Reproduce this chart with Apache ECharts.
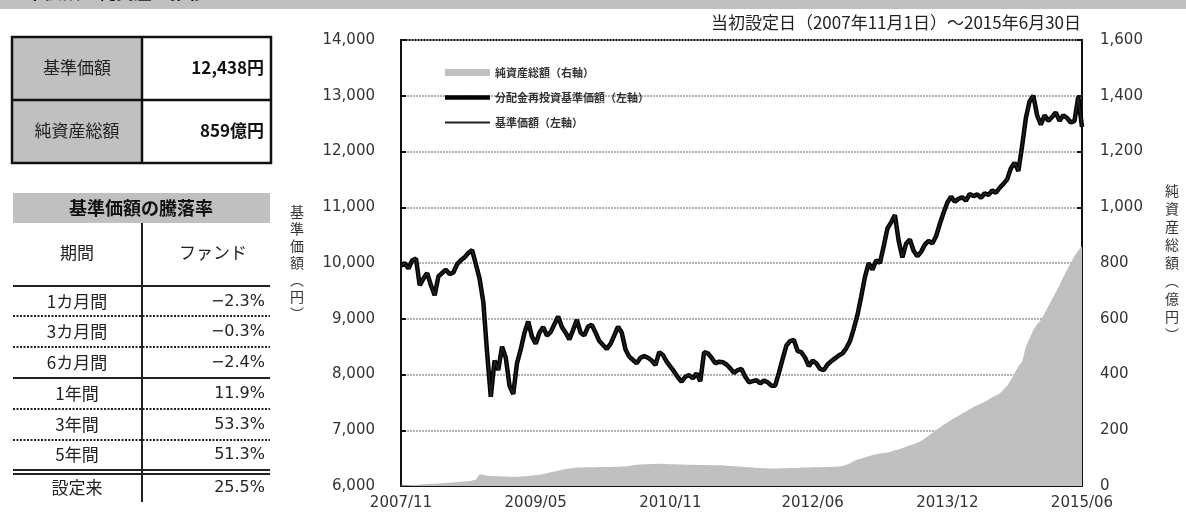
<!DOCTYPE html>
<html><head><meta charset="utf-8">
<script src="https://cdn.jsdelivr.net/npm/echarts@6/dist/echarts.min.js"></script>
<style>html,body{margin:0;padding:0;background:#fff}#c{width:1186px;height:522px}</style>
</head><body><div id="c"></div>
<script>
// semi-monthly observation points, 2007/11 .. 2015/06
var startYear = 2007, startMonth = 11, monthCount = 92;
var tickLabels = ['2007/11','2009/05','2010/11','2012/06','2013/12','2015/06'];
var nav = [
9950,10000,9900,10050,10080,9600,9720,9820,9600,9420,
9760,9820,9880,9800,9830,9980,10050,10100,10180,10230,
9980,9720,9300,8400,7600,8250,8080,8500,8300,7800,
7650,8200,8450,8750,8950,8680,8550,8750,8850,8700,
8760,8900,9040,8850,8750,8630,8800,8980,8750,8700,
8860,8890,8750,8600,8530,8460,8550,8700,8860,8750,
8450,8320,8260,8200,8300,8330,8300,8250,8170,8400,
8350,8230,8140,8050,7950,7870,7960,7990,7930,8020,
7880,8400,8380,8300,8200,8230,8220,8180,8110,8030,
8080,8100,7960,7860,7880,7900,7840,7890,7860,7800,
7800,8030,8280,8520,8600,8620,8420,8400,8300,8150,
8250,8200,8100,8080,8180,8240,8290,8340,8380,8470,
8600,8820,9070,9400,9750,10000,9880,10050,10000,10300,
10620,10730,10860,10400,10100,10350,10420,10220,10120,10200,
10330,10400,10350,10480,10700,10900,11080,11190,11100,11150,
11180,11120,11240,11200,11230,11170,11250,11220,11300,11260,
11350,11420,11500,11700,11800,11650,12100,12600,12900,13000,
12650,12480,12650,12550,12620,12700,12550,12650,12600,12520,
12550,12980,12438
];
var aum = [
2,3,3,4,4,5,6,7,8,8,
9,10,11,12,13,14,15,16,17,20,
22,42,40,37,36,35,35,34,34,33,
33,33,34,35,36,38,39,40,43,46,
49,52,55,58,61,63,65,66,66,67,
67,67,67,68,68,68,68,69,69,70,
70,72,74,76,77,78,78,79,79,80,
80,79,78,78,77,77,76,76,76,75,
75,75,75,74,74,74,74,73,72,71,
70,69,68,67,66,65,65,64,64,63,
63,63,64,64,65,65,65,66,66,66,
67,67,67,68,68,69,69,70,72,75,
82,90,95,98,103,107,111,114,117,118,
120,124,128,131,136,141,146,150,155,162,
170,180,190,200,210,220,228,237,245,252,
260,267,275,283,290,296,302,310,318,325,
332,345,360,380,405,430,445,500,530,560,
580,595,620,645,670,695,720,750,775,800,
825,845,859
];
var summaryLabels = ['基準価額','純資産総額'];
var summaryValues = ['12,438円','859億円'];
var periods = ['1カ月間','3カ月間','6カ月間','1年間','3年間','5年間','設定来'];
var returns = ['−2.3%','−0.3%','−2.4%','11.9%','53.3%','51.3%','25.5%'];
var seriesNames = ['純資産総額（右軸）','分配金再投資基準価額（左軸）','基準価額（左軸）'];

var cats = [];
for (var m = 0; m < monthCount; m++) {
  var y = startYear + Math.floor((startMonth - 1 + m) / 12);
  var mo = (startMonth - 1 + m) % 12 + 1;
  var ym = y + '/' + (mo < 10 ? '0' + mo : mo);
  cats.push(ym + '/01');
  if (m < monthCount - 1) cats.push(ym + '/16');
}
function isTick(idx, val) { return val.slice(8) === '01' && tickLabels.indexOf(val.slice(0, 7)) >= 0; }

var CJK = '"Noto Sans CJK JP", sans-serif';
var NUM = '"DejaVu Sans", "Noto Sans CJK JP", sans-serif';

var g = [];
// top bar
g.push({type:'rect', shape:{x:0,y:0,width:1186,height:9}, style:{fill:'#c0c0c0'}});
g.push({type:'text', left:8, top:-17, style:{text:'基準価額・純資産の推移', font:'bold 18px ' + CJK, fill:'#111'}});
// summary table
g.push({type:'rect', shape:{x:12,y:37,width:130,height:126}, style:{fill:'#c0c0c0'}});
g.push({type:'rect', shape:{x:12,y:37,width:259,height:126}, style:{fill:'none', stroke:'#111', lineWidth:2.5}});
g.push({type:'line', shape:{x1:142,y1:37,x2:142,y2:163}, style:{stroke:'#111', lineWidth:2.5}});
g.push({type:'line', shape:{x1:12,y1:100,x2:271,y2:100}, style:{stroke:'#111', lineWidth:2.5}});
for (var i = 0; i < 2; i++) {
  var cy = 68 + i * 63;
  g.push({type:'text', x:77, y:cy, style:{text:summaryLabels[i], font:'17px ' + CJK, fill:'#222', align:'center', verticalAlign:'middle'}});
  g.push({type:'text', x:264, y:cy, style:{text:summaryValues[i], font:'bold 17px ' + CJK, fill:'#111', align:'right', verticalAlign:'middle'}});
}
// returns table
g.push({type:'rect', shape:{x:13,y:193,width:257,height:30}, style:{fill:'#c0c0c0'}});
g.push({type:'text', x:141, y:208, style:{text:'基準価額の騰落率', font:'bold 18px ' + CJK, fill:'#111', align:'center', verticalAlign:'middle'}});
g.push({type:'line', shape:{x1:142,y1:223,x2:142,y2:502}, style:{stroke:'#222', lineWidth:2}});
g.push({type:'text', x:77, y:253, style:{text:'期間', font:'17px ' + CJK, fill:'#222', align:'center', verticalAlign:'middle'}});
g.push({type:'text', x:213, y:253, style:{text:'ファンド', font:'17px ' + CJK, fill:'#222', align:'center', verticalAlign:'middle'}});
var sep = [[286,'s'],[316,'d'],[347,'d'],[378,'s'],[409,'d'],[440,'d'],[470,'s'],[474,'s']];
sep.forEach(function (s) {
  g.push({type:'line', shape:{x1:13,y1:s[0],x2:270,y2:s[0]}, style:{stroke:'#222', lineWidth:2, lineDash: s[1]==='d'?[2,1.5]:null}});
});
var rowY = [302,332,363,394,425,455,488];
for (var r = 0; r < periods.length; r++) {
  g.push({type:'text', x:77, y:rowY[r], style:{text:periods[r], font:'17px ' + CJK, fill:'#222', align:'center', verticalAlign:'middle'}});
  g.push({type:'text', x:265, y:rowY[r], style:{text:returns[r], font:'16px ' + NUM, fill:'#222', align:'right', verticalAlign:'middle'}});
}
// chart title
g.push({type:'text', x:1081, y:23, style:{text:'当初設定日（2007年11月1日）～2015年6月30日', font:'17px ' + CJK, fill:'#222', align:'right', verticalAlign:'middle'}});

var thickIcon = 'path://M0,0L45,0L45,0.01Z M0,2.8L45,2.8L45,7.2L0,7.2Z M0,10L45,10L45,10.01Z';
var thinIcon = 'path://M0,0L45,0L45,0.01Z M0,4L45,4L45,6L0,6Z M0,10L45,10L45,10.01Z';
var areaIcon = 'path://M0,0L45,0L45,0.01Z M0,1.5L45,1.5L45,8.5L0,8.5Z M0,10L45,10L45,10.01Z';

var chart = echarts.init(document.getElementById('c'));
chart.setOption({
  animation:false,
  backgroundColor:'#fff',
  grid:{left:401, right:104, top:40, bottom:36, show:true, borderColor:'#111', borderWidth:2, backgroundColor:'transparent'},
  legend:{
    orient:'vertical', left:440, top:62, itemWidth:45, itemHeight:10, itemGap:14,
    textStyle:{fontFamily:CJK, fontSize:11, color:'#333', fontWeight:'bold'},
    data:[
      {name:seriesNames[0], icon:areaIcon, itemStyle:{color:'#c0c0c0'}},
      {name:seriesNames[1], icon:thickIcon, itemStyle:{color:'#000'}},
      {name:seriesNames[2], icon:thinIcon, itemStyle:{color:'#222'}}
    ]
  },
  xAxis:{
    type:'category', data:cats, boundaryGap:false,
    axisLine:{lineStyle:{color:'#111', width:2}},
    axisTick:{inside:true, length:6, interval:isTick, lineStyle:{color:'#111', width:2}},
    axisLabel:{interval:isTick, formatter:function(v){return v.slice(0,7);}, fontFamily:NUM, fontSize:15, color:'#333', margin:10},
    splitLine:{show:false}
  },
  yAxis:[{
    type:'value', min:6000, max:14000, interval:1000,
    name:'基\n準\n価\n額\n︵\n円\n︶', nameLocation:'middle', nameGap:97, nameRotate:0,
    nameTextStyle:{fontFamily:CJK, fontSize:14, color:'#333', lineHeight:17},
    axisLine:{show:true, lineStyle:{color:'#111', width:2}},
    axisTick:{show:true, inside:true, length:5, lineStyle:{color:'#111', width:2}},
    axisLabel:{fontFamily:NUM, fontSize:15, color:'#333', margin:26, formatter:function(v){return v.toLocaleString('en-US');}},
    splitLine:{lineStyle:{color:'#999', type:[2,1], width:1.5}}
  },{
    type:'value', min:0, max:1600, interval:200,
    name:'純\n資\n産\n総\n額\n︵\n億\n円\n︶', nameLocation:'middle', nameGap:83, nameRotate:0,
    nameTextStyle:{fontFamily:CJK, fontSize:14, color:'#333', lineHeight:18},
    axisLine:{show:true, lineStyle:{color:'#111', width:2}},
    axisTick:{show:true, inside:true, length:5, lineStyle:{color:'#111', width:2}},
    axisLabel:{fontFamily:NUM, fontSize:15, color:'#333', margin:18, formatter:function(v){return v.toLocaleString('en-US');}},
    splitLine:{show:false}
  }],
  series:[
    {name:seriesNames[0], type:'line', yAxisIndex:1, data:aum, symbol:'none', lineStyle:{width:0, color:'#c0c0c0'}, itemStyle:{color:'#c0c0c0'}, areaStyle:{color:'#c0c0c0', opacity:1}, z:1},
    {name:seriesNames[1], type:'line', yAxisIndex:0, data:nav, symbol:'none', lineStyle:{width:4.5, color:'#000'}, itemStyle:{color:'#000'}, z:3},
    {name:seriesNames[2], type:'line', yAxisIndex:0, data:nav, symbol:'none', lineStyle:{width:1.5, color:'#222'}, itemStyle:{color:'#222'}, z:4}
  ],
  graphic:g
});
</script></body></html>
